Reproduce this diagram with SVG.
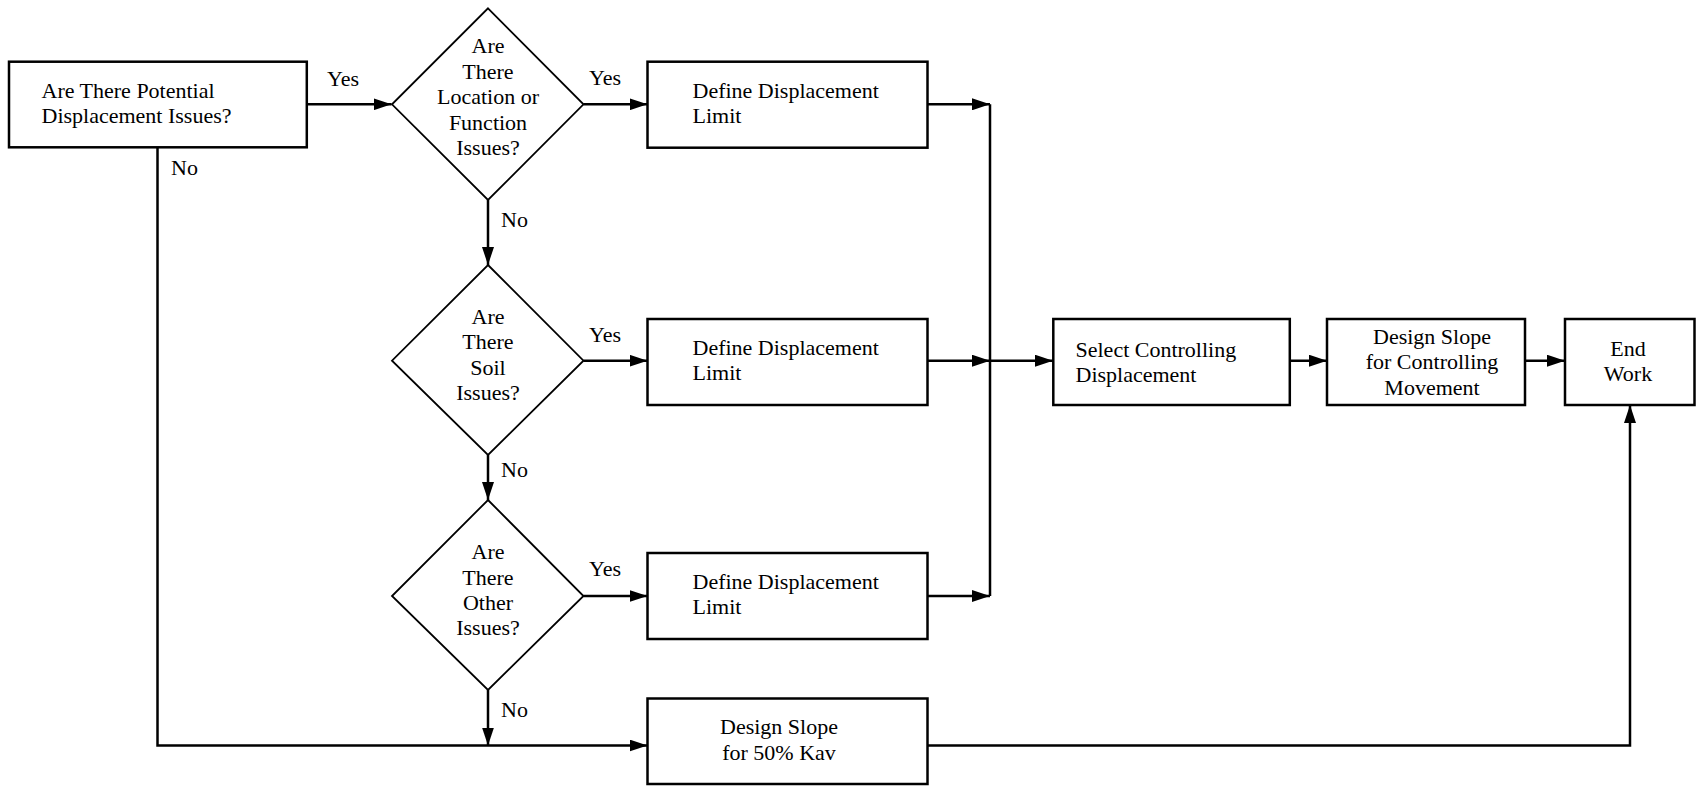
<svg xmlns="http://www.w3.org/2000/svg" width="1696" height="786" viewBox="0 0 1696 786">
<style>
.box{fill:#fff;stroke:#000;stroke-width:2.5}
.dia{fill:#fff;stroke:#000;stroke-width:1.8}
.ln{fill:none;stroke:#000;stroke-width:2.5}
text{font-family:"Liberation Serif","Times New Roman",serif;font-size:22px;fill:#000}
.c{text-anchor:middle}
</style>
<defs>
<marker id="ah" markerUnits="userSpaceOnUse" markerWidth="18" markerHeight="12" refX="18" refY="6" orient="auto">
<path d="M0,0 L18,6 L0,12 z" fill="#000"/>
</marker>
</defs>
<rect width="1696" height="786" fill="#fff"/>
<g id="connectors">
<path class="ln" d="M307,104.3 H391.5" marker-end="url(#ah)"/>
<path class="ln" d="M583.5,104.3 H647.5" marker-end="url(#ah)"/>
<path class="ln" d="M583.5,360.7 H647.5" marker-end="url(#ah)"/>
<path class="ln" d="M583.5,596 H647.5" marker-end="url(#ah)"/>
<path class="ln" d="M488,200 V265" marker-end="url(#ah)"/>
<path class="ln" d="M488,455 V500" marker-end="url(#ah)"/>
<path class="ln" d="M488,690 V745.5" marker-end="url(#ah)"/>
<path class="ln" d="M927.5,104.3 H990" marker-end="url(#ah)"/>
<path class="ln" d="M927.5,360.7 H990" marker-end="url(#ah)"/>
<path class="ln" d="M927.5,596 H990" marker-end="url(#ah)"/>
<path class="ln" d="M990,104.3 V596"/>
<path class="ln" d="M990,360.7 H1053" marker-end="url(#ah)"/>
<path class="ln" d="M1290,360.7 H1327" marker-end="url(#ah)"/>
<path class="ln" d="M1525,360.7 H1565" marker-end="url(#ah)"/>
<path class="ln" d="M157.5,147.3 V745.5 H647.5" marker-end="url(#ah)"/>
<path class="ln" d="M927.5,745.5 H1630 V405" marker-end="url(#ah)"/>
<text x="327" y="86">Yes</text>
<text x="171" y="175">No</text>
<text x="589" y="85">Yes</text>
<text x="501" y="227">No</text>
<text x="589" y="342">Yes</text>
<text x="501" y="476.5">No</text>
<text x="589" y="576">Yes</text>
<text x="501" y="716.5">No</text>
</g>
<g id="start">
<rect class="box" x="9" y="61.7" width="297.8" height="85.6"/>
<text x="41.5" y="97.5">Are There Potential</text>
<text x="41.5" y="122.5">Displacement Issues?</text>
</g>
<g id="d1">
<path class="dia" d="M488,8.3 L583.5,104.3 L488,200 L392,104.3 z"/>
<text class="c" x="488" y="53">Are</text>
<text class="c" x="488" y="78.5">There</text>
<text class="c" x="488" y="104">Location or</text>
<text class="c" x="488" y="129.5">Function</text>
<text class="c" x="488" y="155">Issues?</text>
</g>
<g id="d2">
<path class="dia" d="M488,265 L583.5,360.7 L488,455 L392,360.7 z"/>
<text class="c" x="488" y="324">Are</text>
<text class="c" x="488" y="349.3">There</text>
<text class="c" x="488" y="374.6">Soil</text>
<text class="c" x="488" y="400">Issues?</text>
</g>
<g id="d3">
<path class="dia" d="M488,500 L583.5,596 L488,690 L392,596 z"/>
<text class="c" x="488" y="559.3">Are</text>
<text class="c" x="488" y="584.6">There</text>
<text class="c" x="488" y="610">Other</text>
<text class="c" x="488" y="635">Issues?</text>
</g>
<g id="limit1">
<rect class="box" x="647.5" y="61.7" width="280" height="86"/>
<text x="692.5" y="98.3">Define Displacement</text>
<text x="692.5" y="123.3">Limit</text>
</g>
<g id="limit2">
<rect class="box" x="647.5" y="319" width="280" height="86"/>
<text x="692.5" y="355">Define Displacement</text>
<text x="692.5" y="380">Limit</text>
</g>
<g id="limit3">
<rect class="box" x="647.5" y="553" width="280" height="86"/>
<text x="692.5" y="588.5">Define Displacement</text>
<text x="692.5" y="613.5">Limit</text>
</g>
<g id="kav">
<rect class="box" x="647.5" y="698.5" width="280" height="85.5"/>
<text class="c" x="779" y="734">Design Slope</text>
<text class="c" x="779" y="760">for 50% Kav</text>
</g>
<g id="select">
<rect class="box" x="1053.3" y="319" width="236.5" height="86"/>
<text x="1075.5" y="356.5">Select Controlling</text>
<text x="1075.5" y="382">Displacement</text>
</g>
<g id="design">
<rect class="box" x="1327" y="319" width="198" height="86"/>
<text class="c" x="1432" y="343.5">Design Slope</text>
<text class="c" x="1432" y="369">for Controlling</text>
<text class="c" x="1432" y="394.5">Movement</text>
</g>
<g id="end">
<rect class="box" x="1565" y="319" width="129.5" height="86"/>
<text class="c" x="1628" y="355.5">End</text>
<text class="c" x="1628" y="381">Work</text>
</g>
</svg>
